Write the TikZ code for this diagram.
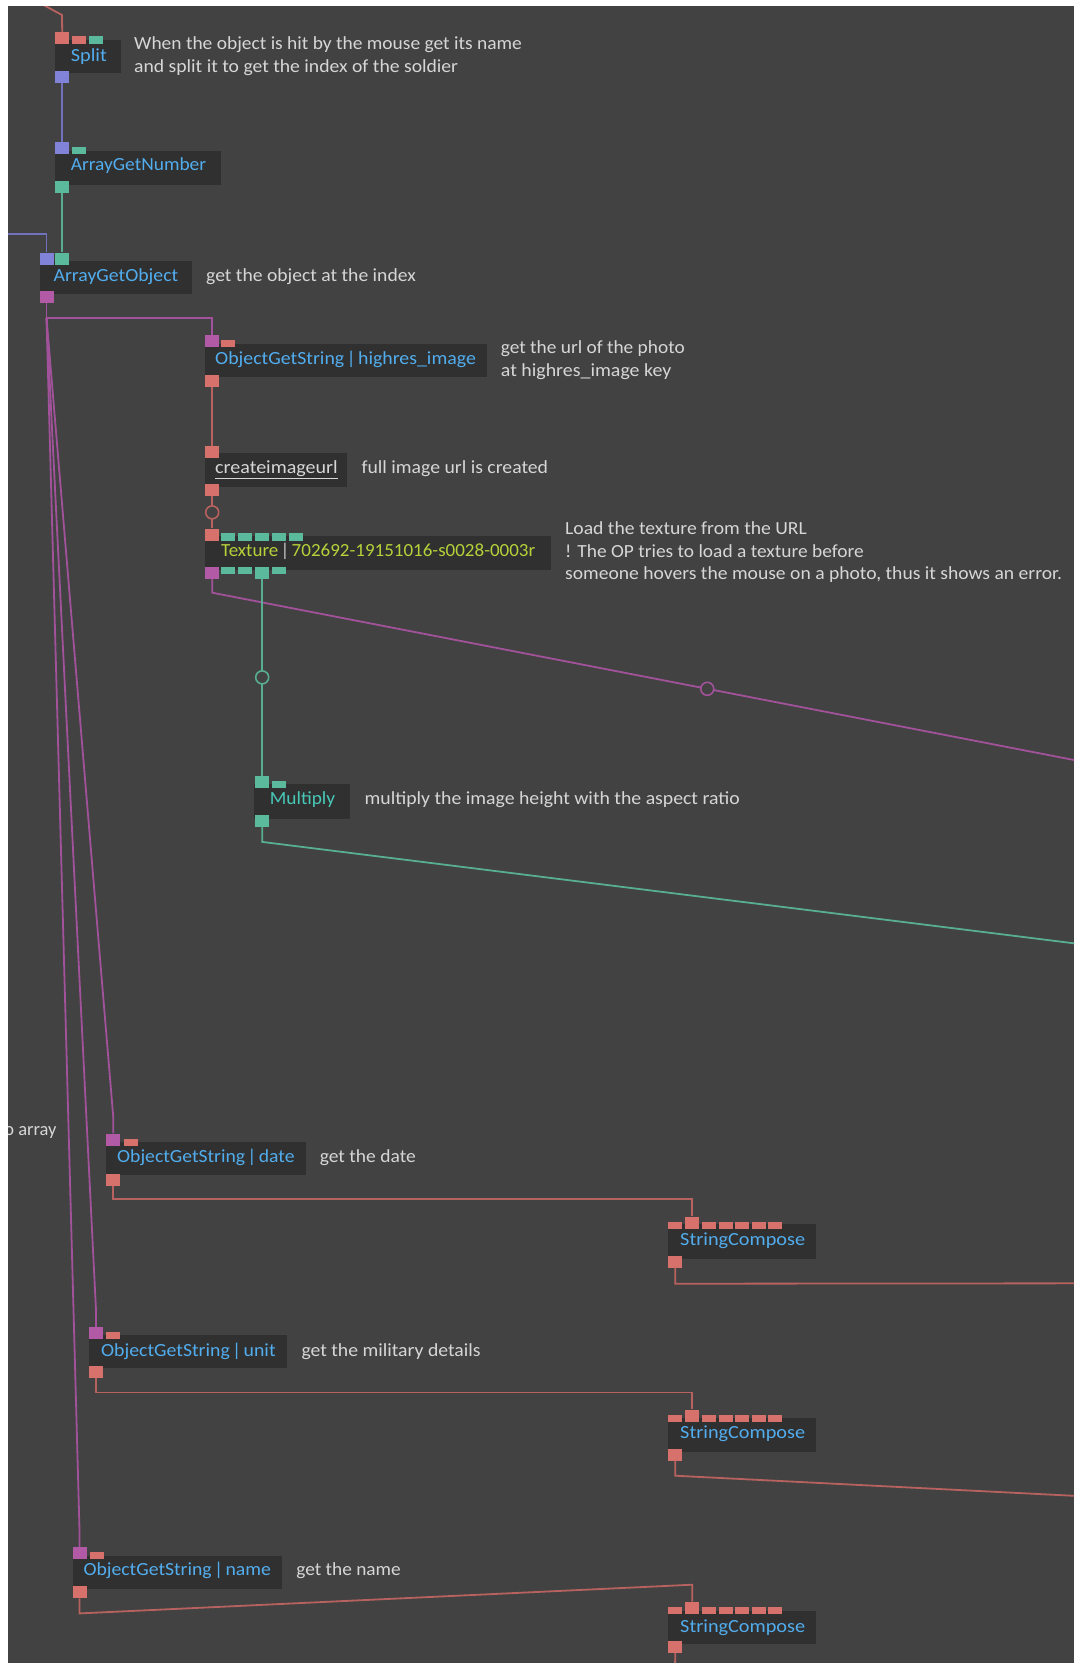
\documentclass[tikz,border=0pt]{standalone}
\usepackage{fontspec}
\setmainfont{Carlito}
\usepackage{graphicx}
\usetikzlibrary{calc}
\definecolor{bgc}{HTML}{424242}
\definecolor{boxc}{HTML}{303030}
\definecolor{portred}{HTML}{D6716C}
\definecolor{portpur}{HTML}{B25AA6}
\definecolor{portteal}{HTML}{5CBA9C}
\definecolor{portblue}{HTML}{8183D9}
\definecolor{linered}{HTML}{B8625F}
\definecolor{linepur}{HTML}{A2529A}
\definecolor{lineteal}{HTML}{58AE90}
\definecolor{lineblue}{HTML}{7072BE}
\definecolor{opblue}{HTML}{52ADEE}
\definecolor{optex}{HTML}{B6D23A}
\definecolor{opmul}{HTML}{48C9B8}
\definecolor{cmtc}{HTML}{D6D6D6}
\definecolor{pipec}{HTML}{C8C8C8}
\newlength{\fwlen}
\newcommand{\fitw}[2]{\settowidth{\fwlen}{#2}\pgfmathsetmacro{\fwr}{#1/\fwlen}\strut\scalebox{\fwr}[1]{#2}}
\newcommand{\pipesep}{\hspace{0.12em}|\hspace{0.12em}}
\begin{document}
\begin{tikzpicture}[x=1pt,y=-1pt,
  opbox/.style={fill=boxc, draw=none, inner sep=0, anchor=north west},
  pbig/.style={inner sep=0, draw=none, minimum width=14pt, minimum height=12pt, anchor=north west},
  psmall/.style={inner sep=0, draw=none, minimum width=14pt, minimum height=7.5pt, anchor=north west},
  lbl/.style={inner sep=0, anchor=west, font=\fontsize{18.5}{22.5}\selectfont},
  cmt/.style={lbl, text=cmtc, align=left},
  link/.style={line width=1.8pt},
  lred/.style={link, draw=linered},
  lpur/.style={link, draw=linepur},
  lteal/.style={link, draw=lineteal},
  lblue/.style={link, draw=lineblue},
  ring/.style={circle, inner sep=0, minimum size=13pt, fill=bgc, line width=1.6pt}]
\useasboundingbox (0,0) rectangle (1074,1663);
\fill[white] (0,0) rectangle (1074,1663);
\fill[bgc] (8,6) rectangle (1074,1663);
\begin{scope}
\clip (8,6) rectangle (1074,1663);
% boxes
\node[opbox, minimum width=65.5pt, minimum height=33pt] (splitB) at (55,40) {};
\node[opbox, minimum width=165.4pt, minimum height=33.3pt] (agnB) at (55,151) {};
\node[opbox, minimum width=152.8pt, minimum height=33pt] (agoB) at (39.3,261) {};
\node[opbox, minimum width=282.1pt, minimum height=33.4pt] (ogsHB) at (204.3,343.3) {};
\node[opbox, minimum width=142.7pt, minimum height=34pt] (creB) at (204.3,452.7) {};
\node[opbox, minimum width=346.4pt, minimum height=33.3pt] (texB) at (204.3,536) {};
\node[opbox, minimum width=95.4pt, minimum height=34.3pt] (mulB) at (254,784) {};
\node[opbox, minimum width=199.8pt, minimum height=33.3pt] (ogsDB) at (106,1141.7) {};
\node[opbox, minimum width=198pt, minimum height=33pt] (ogsUB) at (88.8,1335) {};
\node[opbox, minimum width=209.4pt, minimum height=33pt] (ogsNB) at (72.3,1556) {};
\node[opbox, minimum width=148pt, minimum height=34.5pt] (sc1B) at (668,1224) {};
\node[opbox, minimum width=148pt, minimum height=34.4pt] (sc2B) at (668,1417.3) {};
\node[opbox, minimum width=148pt, minimum height=33.5pt] (sc3B) at (668,1610.5) {};
% ports
\node[pbig, fill=portred] (splitI1) at (55,32) {};
\node[psmall, fill=portred] (splitI2) at (71.7,36) {};
\node[psmall, fill=portteal] (splitI3) at (88.3,36) {};
\node[pbig, fill=portblue] (splitO) at (55,70.5) {};
\node[pbig, fill=portblue] (agnI1) at (55,142) {};
\node[psmall, fill=portteal] (agnI2) at (71.7,146.5) {};
\node[pbig, fill=portteal] (agnO) at (55,181) {};
\node[pbig, fill=portblue] (agoI1) at (39.3,252.3) {};
\node[pbig, fill=portteal] (agoI2) at (55,252.3) {};
\node[pbig, fill=portpur] (agoO) at (39.3,290.5) {};
\node[pbig, fill=portpur] (ogsHI1) at (205,335) {};
\node[psmall, fill=portred] (ogsHI2) at (221,339.3) {};
\node[pbig, fill=portred] (ogsHO) at (205,374.3) {};
\node[pbig, fill=portred] (creI) at (205,445.5) {};
\node[pbig, fill=portred] (creO) at (205,484) {};
\node[pbig, fill=portred] (texI1) at (205,528.3) {};
\foreach \i/\xx in {2/221,3/238,4/255,5/272,6/288.5}
  \node[psmall, fill=portteal] (texI\i) at (\xx,532.8) {};
\node[pbig, fill=portpur] (texO1) at (205,566.3) {};
\node[psmall, fill=portteal] (texO2) at (221,566.3) {};
\node[psmall, fill=portteal] (texO3) at (238,566.3) {};
\node[pbig, fill=portteal] (texO4) at (255,566.3) {};
\node[psmall, fill=portteal] (texO5) at (272,566.3) {};
\node[pbig, fill=portteal] (mulI1) at (255,776) {};
\node[psmall, fill=portteal] (mulI2) at (271.3,780.3) {};
\node[pbig, fill=portteal] (mulO) at (255,814.5) {};
\node[pbig, fill=portpur] (ogsDI1) at (106,1133.3) {};
\node[psmall, fill=portred] (ogsDI2) at (123.3,1138.3) {};
\node[pbig, fill=portred] (ogsDO) at (106,1173.3) {};
\node[pbig, fill=portpur] (ogsUI1) at (88.8,1327) {};
\node[psmall, fill=portred] (ogsUI2) at (106,1331.7) {};
\node[pbig, fill=portred] (ogsUO) at (88.8,1365.5) {};
\node[pbig, fill=portpur] (ogsNI1) at (72.3,1547) {};
\node[psmall, fill=portred] (ogsNI2) at (89.3,1551.3) {};
\node[pbig, fill=portred] (ogsNO) at (72.3,1586) {};
\foreach \k/\t in {1/1216.3,2/1409.3,3/1601.7}{
  \node[psmall, fill=portred] (sc\k I1) at (668,\t+5) {};
  \node[pbig, fill=portred] (sc\k I2) at (685,\t) {};
  \foreach \i/\xx in {3/701.7,4/718.3,5/735,6/751.7,7/767.7}
    \node[psmall, fill=portred] (sc\k I\i) at (\xx,\t+5) {};
  \node[pbig, fill=portred] (sc\k O) at (668,\t+39) {};
}
% connectors
\coordinate (topin) at (38,2);
\coordinate (topbend) at (62,15);
\draw[lred] (topin) -- (topbend) -- (splitI1.north);
\draw[lblue] (splitO.south) -- (agnI1.north);
\draw[lteal] (agnO.south) -- (agoI2.north);
\coordinate (leftin) at (0,234.3);
\draw[lblue] (leftin) -| (agoI1.north);
\coordinate (agoStub) at ($(agoO.south)+(0,15)$);
\draw[lpur] (agoO.south) -- (agoStub) -| (ogsHI1.north);
\draw[lpur] (agoStub) -- ($(ogsDI1.north)+(0,-17)$) -- (ogsDI1.north);
\draw[lpur] (agoStub) -- ($(ogsUI1.north)+(0,-17)$) -- (ogsUI1.north);
\draw[lpur] (agoStub) -- ($(ogsNI1.north)+(0,-17)$) -- (ogsNI1.north);
\draw[lred] (ogsHO.south) -- (creI.north);
\draw[lred] (creO.south) -- node[ring, draw=linered] (ring1) {} (texI1.north);
\coordinate (texOut) at (1090,763.1);
\draw[lpur] (texO1.south) -- ++(0,14) -- node[ring, draw=linepur, pos=0.564] (ring2) {} (texOut);
\draw[lteal] (texO4.south) -- node[ring, draw=lineteal] (ring3) {} (mulI1.north);
\coordinate (mulOut) at (1090,945.3);
\draw[lteal] (mulO.south) -- ++(0,15) -- (mulOut);
\draw[lred] (ogsDO.south) -- ++(0,13) -| (sc1I2.north);
\coordinate (sc1Out) at (1090,1283.3);
\draw[lred] (sc1O.south) -- ++(0,16) -- (sc1Out);
\draw[lred] (ogsUO.south) -- ++(0,14.5) -| (sc2I2.north);
\coordinate (sc2Out) at (1090,1496.6);
\draw[lred] (sc2O.south) -- ++(0,15) -- (sc2Out);
\draw[lred] (ogsNO.south) -- ++(0,15) -- ($(sc3I2.north)+(0,-17)$) -- (sc3I2.north);
\coordinate (sc3Out) at (675,1680);
\draw[lred] (sc3O.south) -- (sc3Out);
% labels
\node[lbl, text=opblue] (splitT) at (70.6,57) {\fitw{36.1}{Split}};
\node[lbl, text=opblue] (agnT) at (70.6,166) {\fitw{135.3}{ArrayGetNumber}};
\node[lbl, text=opblue] (agoT) at (53.4,277) {\fitw{124.6}{ArrayGetObject}};
\node[lbl, text=opblue] (ogsHT) at (215,360) {\fitw{260.7}{ObjectGetString\pipesep highres\_image}};
\node[lbl, text=cmtc] (creT) at (215,469.3) {\fitw{122.5}{\underline{createimageurl}}};
\node[lbl, text=optex] (texT) at (221,552.3) {\fitw{314}{Texture{\color{pipec}\pipesep}702692-19151016-s0028-0003r}};
\node[lbl, text=opmul] (mulT) at (269.7,800) {\fitw{65.3}{Multiply}};
\node[lbl, text=opblue] (ogsDT) at (117,1158) {\fitw{177.4}{ObjectGetString\pipesep date}};
\node[lbl, text=opblue] (ogsUT) at (100.9,1351.5) {\fitw{174.6}{ObjectGetString\pipesep unit}};
\node[lbl, text=opblue] (ogsNT) at (83.3,1571) {\fitw{187.4}{ObjectGetString\pipesep name}};
\node[lbl, text=opblue] (sc1T) at (680,1241) {\fitw{125}{StringCompose}};
\node[lbl, text=opblue] (sc2T) at (680,1433.5) {\fitw{125}{StringCompose}};
\node[lbl, text=opblue] (sc3T) at (680,1627.5) {\fitw{125}{StringCompose}};
% comments
\node[cmt] (splitC) at (134,56.7) {\fitw{387.7}{When the object is hit by the mouse get its name}\\\fitw{324}{and split it to get the index of the soldier}};
\node[cmt] (agoC) at (206,277) {\fitw{209.6}{get the object at the index}};
\node[cmt] (ogsHC) at (500.7,360.5) {\fitw{183.9}{get the url of the photo}\\\fitw{170.4}{at highres\_image key}};
\node[cmt] (creC) at (361.4,469.3) {\fitw{186.5}{full image url is created}};
\node[cmt] (texC) at (565,552.7) {\fitw{241.7}{Load the texture from the URL}\\\fitw{298.5}{! The OP tries to load a texture before}\\\fitw{496.8}{someone hovers the mouse on a photo, thus it shows an error.}};
\node[cmt] (mulC) at (364.4,800) {\fitw{375.2}{multiply the image height with the aspect ratio}};
\node[cmt] (ogsDC) at (319.6,1158) {\fitw{96}{get the date}};
\node[cmt] (ogsUC) at (301.3,1351.5) {\fitw{179.1}{get the military details}};
\node[cmt] (ogsNC) at (296.2,1571) {\fitw{104.4}{get the name}};
\node[cmt, anchor=east] (arrC) at (56.8,1131.5) {to array};
\end{scope}
\end{tikzpicture}
\end{document}
